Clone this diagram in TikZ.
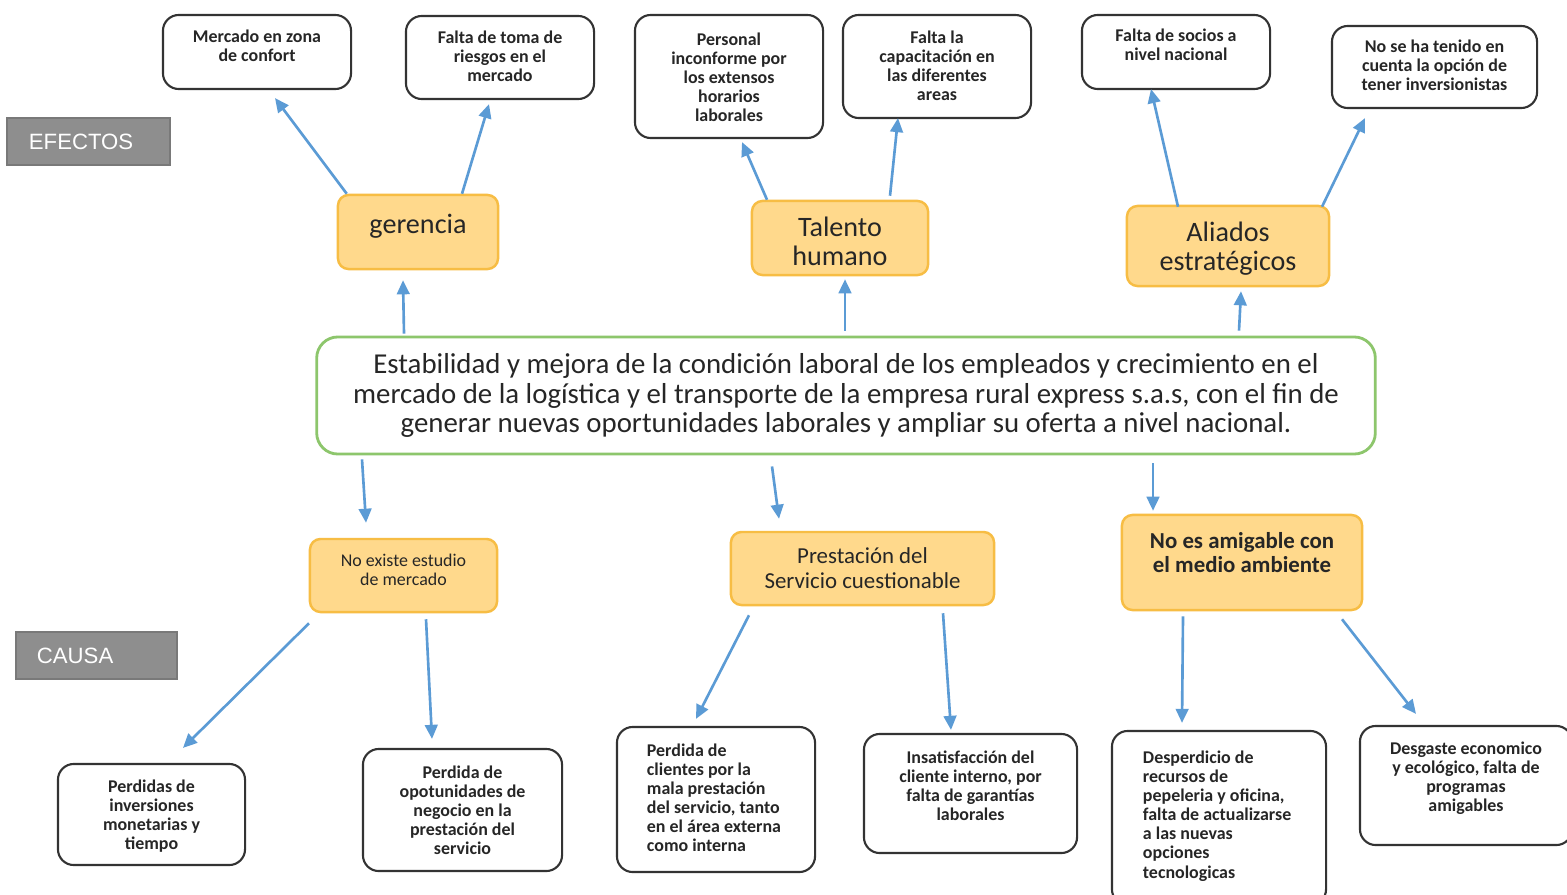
\documentclass[tikz,border=0pt]{standalone}
\usepackage{fontspec}
\setmainfont{Carlito}
\newfontfamily\arialf{Liberation Sans}
\usetikzlibrary{arrows.meta,calc}
\definecolor{arrowblue}{HTML}{5B9BD5}
\definecolor{orfill}{HTML}{FFD98C}
\definecolor{ordraw}{HTML}{F7BD44}
\definecolor{grn}{HTML}{8DC66C}
\definecolor{lblgray}{HTML}{8E8E8E}
\newcommand\tb[4]{\parbox[c][#2][t]{#1}{\vspace*{#3}#4}}
\tikzset{
  wbox/.style={draw=black!80, line width=0.6pt, rounded corners=4.5pt, fill=white, inner sep=0pt,
    font=\fontsize{5.1pt}{5.45pt}\selectfont\bfseries, text=black!85},
  obox/.style={draw=ordraw, line width=0.7pt, rounded corners=3pt, fill=orfill, inner sep=0pt, text=black!85},
  bigfont/.style={font=\fontsize{8pt}{8.3pt}\selectfont},
  midfont/.style={font=\fontsize{6.5pt}{7.1pt}\selectfont},
  smallfont/.style={font=\fontsize{5.1pt}{5.2pt}\selectfont},
  mbox/.style={draw=grn, line width=0.8pt, rounded corners=6pt, fill=white, inner sep=0pt,
    font=\fontsize{8.2pt}{8.4pt}\selectfont, text=black!85},
  lbl/.style={fill=lblgray, draw=lblgray!85!black, line width=0.4pt, text=white, inner sep=0pt,
    font=\arialf\fontsize{6.3pt}{7pt}\selectfont},
  arr/.style={draw=arrowblue, line width=0.75pt, -{Triangle[length=4pt,width=3.6pt]}},
}
\begin{document}
\begin{tikzpicture}[x=0.01cm, y=-0.01cm]
\useasboundingbox (0,0) rectangle (1567,894);
\clip (0,0) rectangle (1567,894);
\fill[white] (0,0) rectangle (1567,894);

% labels
\node[lbl] (ef) at (88.5,141.5) {\parbox[c][0.47cm][c]{1.63cm}{\hspace*{0.22cm}EFECTOS}};
\node[lbl] (ca) at (96.5,655.5) {\parbox[c][0.47cm][c]{1.61cm}{\hspace*{0.21cm}CAUSA}};

% effects
\node[wbox] (a1) at (257,52) {\tb{1.88cm}{0.74cm}{0.145cm}{\centering Mercado en zona\\de confort}};
\node[wbox] (a2) at (500,57.5) {\tb{1.88cm}{0.83cm}{0.145cm}{\centering Falta de toma de\\riesgos en el\\mercado}};
\node[wbox] (b1) at (729,76.5) {\tb{1.88cm}{1.23cm}{0.175cm}{\centering Personal\\inconforme por\\los extensos\\horarios\\laborales}};
\node[wbox] (b2) at (937,66.5) {\tb{1.88cm}{1.03cm}{0.155cm}{\centering Falta la\\capacitación en\\las diferentes\\areas}};
\node[wbox] (c1) at (1176,52) {\tb{1.88cm}{0.74cm}{0.135cm}{\centering Falta de socios a\\nivel nacional}};
\node[wbox] (c2) at (1434.5,67) {\tb{2.05cm}{0.82cm}{0.135cm}{\centering No se ha tenido en\\cuenta la opción de\\tener inversionistas}};

% middle row
\node[obox,bigfont] (g) at (418,232) {\tb{1.60cm}{0.74cm}{0.19cm}{\centering gerencia}};
\node[obox,bigfont] (t) at (840,238) {\tb{1.76cm}{0.74cm}{0.155cm}{\centering Talento\\humano}};
\node[obox,bigfont] (al) at (1228,246) {\tb{2.02cm}{0.80cm}{0.155cm}{\centering Aliados\\estratégicos}};

\node[mbox] (m) at (846,395.5) {\parbox[c][1.17cm][c]{10.58cm}{\centering
Estabilidad y mejora de la condición laboral de los empleados y crecimiento en el\\
mercado de la logística y el transporte de la empresa rural express s.a.s, con el fin de\\
generar nuevas oportunidades laborales y ampliar su oferta a nivel nacional.}};

% causes
\node[obox,smallfont] (n1) at (403.5,575.5) {\tb{1.87cm}{0.73cm}{0.155cm}{\centering No existe estudio\\de mercado}};
\node[obox,midfont] (p) at (862.5,568.5) {\tb{2.63cm}{0.73cm}{0.16cm}{\centering Prestación del\\Servicio cuestionable}};
\node[obox,midfont] (ne) at (1242,562.5) {\tb{2.40cm}{0.95cm}{0.17cm}{\centering\bfseries No es amigable con\\el medio ambiente}};

% bottom
\node[wbox] (d1) at (151.5,814.5) {\tb{1.87cm}{1.01cm}{0.155cm}{\centering Perdidas de\\inversiones\\monetarias y\\tiempo}};
\node[wbox] (d2) at (462.5,810) {\tb{1.99cm}{1.22cm}{0.165cm}{\centering Perdida de\\opotunidades de\\negocio en la\\prestación del\\servicio}};
\node[wbox] (e1) at (716,799.5) {\tb{1.98cm}{1.45cm}{0.165cm}{\raggedright\leftskip=0.30cm Perdida de\\clientes por la\\mala prestación\\del servicio, tanto\\en el área externa\\como interna}};
\node[wbox] (e2) at (970.5,793.5) {\tb{2.13cm}{1.19cm}{0.165cm}{\centering Insatisfacción del\\cliente interno, por\\falta de garantías\\laborales}};
\node[wbox] (f1) at (1219,818) {\tb{2.14cm}{1.74cm}{0.195cm}{\raggedright\leftskip=0.31cm Desperdicio de\\recursos de\\pepeleria y oficina,\\falta de actualizarse\\a las nuevas\\opciones\\tecnologicas}};
\node[wbox] (f2) at (1466,785.5) {\tb{2.12cm}{1.19cm}{0.155cm}{\centering Desgaste economico\\y ecológico, falta de\\programas\\amigables}};

% arrows: effects
\draw[arr] ($(g.north west)+(10,0)$) -- ($(a1.south)+(18,8)$);
\draw[arr] ($(g.north)+(44,0)$) -- ($(a2.south)+(-11,4)$);
\draw[arr] ($(t.north)+(-73,0)$) -- ($(b1.south)+(13,3)$);
\draw[arr] ($(t.north)+(50,-4)$) -- ($(b2.south)+(-39,-1)$);
\draw[arr] ($(al.north)+(-50,2)$) -- ($(c1.south)+(-25,-1)$);
\draw[arr] ($(al.north)+(94,2)$) -- ($(c2.south)+(-69.5,9)$);
% main to middle
\draw[arr] ($(m.north)+(-442,-2)$) -- ($(g.south)+(-15,10)$);
\draw[arr] ($(m.north)+(-1,-5)$) -- ($(t.south)+(5,3)$);
\draw[arr] ($(m.north)+(393,-5)$) -- ($(al.south)+(13,4)$);
% main to causes
\draw[arr] ($(m.south)+(-484,4)$) -- ($(n1.north)+(-37.5,-15)$);
\draw[arr] ($(m.south)+(-74,11)$) -- ($(p.north)+(-83.5,-12)$);
\draw[arr] ($(m.south)+(307,8)$) -- ($(ne.north)+(-89,-3)$);
% causes to bottom
\draw[arr] ($(n1.south)+(-94.5,10)$) -- ($(d1.north)+(31.5,-15)$);
\draw[arr] ($(n1.south)+(22.5,6)$) -- ($(d2.north)+(-30.5,-9)$);
\draw[arr] ($(p.south)+(-113.5,9)$) -- ($(e1.north)+(-20,-7)$);
\draw[arr] ($(p.south)+(80.5,7)$) -- ($(e2.north)+(-19.5,-3)$);
\draw[arr] ($(ne.south)+(-59,5)$) -- ($(f1.north)+(-37,-7)$);
\draw[arr] ($(ne.south)+(100,8)$) -- ($(f2.north)+(-50,-11)$);
\end{tikzpicture}
\end{document}
